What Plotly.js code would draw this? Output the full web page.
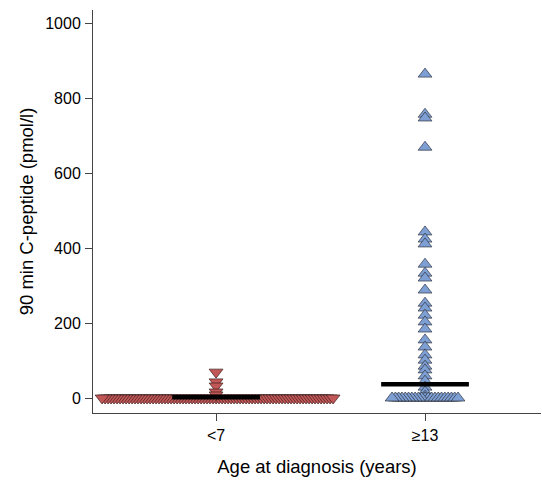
<!DOCTYPE html>
<html>
<head>
<meta charset="utf-8">
<script src="https://cdn.plot.ly/plotly-3.0.1.min.js"></script>
<style>html,body{margin:0;padding:0;background:#fff;}#chart{width:542px;height:480px;}</style>
</head>
<body>
<div id="chart"></div>
<script>
const categories = ['<7', '\u226513'];
const under7Values = [
  69, 43, 32, 16, 8,
  0, 0, 0, 0, 0, 0, 0, 0, 0, 0, 0, 0, 0,
  0, 0, 0, 0, 0, 0, 0, 0, 0, 0, 0, 0, 0,
  0, 0, 0, 0, 0, 0, 0, 0, 0, 0, 0, 0, 0,
  0, 0, 0, 0, 0, 0, 0, 0, 0, 0, 0, 0, 0,
  0, 0, 0, 0, 0, 0, 0, 0, 0, 0, 0, 0, 0,
  0, 0, 0, 0, 0, 0, 0, 0, 0, 0, 0, 0, 0
];
const over13Values = [
  864, 757, 747, 669, 443, 424, 411, 357, 333, 320, 288, 253, 240, 221,
  203, 184, 155, 136, 115, 101, 85, 75, 59, 45, 29, 16, 5,
  0, 0, 0, 0, 0, 0, 0, 0, 0, 0, 0, 0, 0, 0, 0, 0, 0, 0, 0, 0, 0
];
const medianValues = [2, 37];
const yTickVals = [0, 200, 400, 600, 800, 1000];

const W = 542, H = 480;
const margin = {l: 93, r: 1, t: 10, b: 67};
const xRange = [-0.589, 1.555];
const yRange = [-40, 1035];
const pxPerX = (W - margin.l - margin.r) / (xRange[1] - xRange[0]);
const pxPerY = (H - margin.t - margin.b) / (yRange[1] - yRange[0]);

// simple deterministic beeswarm: equal values spread sideways
function swarm(values, center, stepPx, thrPx) {
  const placed = [];
  return values.map(v => {
    const py = v * pxPerY;
    for (let k = 0; k < 2000; k++) {
      const off = k === 0 ? 0 : (k % 2 ? Math.ceil(k / 2) : -k / 2);
      const px = off * stepPx;
      const hit = placed.some(p => Math.abs(p.py - py) < thrPx && Math.abs(p.px - px) < stepPx * 0.5);
      if (!hit) { placed.push({px, py}); return center + px / pxPerX; }
    }
    return center;
  });
}

const font = 'Liberation Sans, Arial, Helvetica, sans-serif';
const traces = [
  {
    x: swarm(under7Values, 0, 3, 1.5), y: under7Values, type: 'scatter', mode: 'markers',
    marker: {symbol: 'triangle-down', size: 12, color: '#C25757', line: {color: '#3d1c1c', width: 0.7}},
    hoverinfo: 'y', showlegend: false
  },
  {
    x: swarm(over13Values, 1, 3.3, 1.5), y: over13Values, type: 'scatter', mode: 'markers',
    marker: {symbol: 'triangle-up', size: 12, color: '#7E9FD3', line: {color: '#2e3440', width: 0.7}},
    hoverinfo: 'y', showlegend: false
  }
];
medianValues.forEach((m, i) => {
  traces.push({
    x: [i - 0.21, i + 0.21], y: [m, m], type: 'scatter', mode: 'lines',
    line: {color: '#000', width: 4.5}, hoverinfo: 'skip', showlegend: false
  });
});

const axisCommon = {
  showline: true, linecolor: '#444', linewidth: 1, ticks: 'outside', ticklen: 7,
  tickwidth: 1, tickcolor: '#444', showgrid: false, zeroline: false, ticklabelstandoff: 1,
  tickfont: {family: font, size: 16, color: '#000'}, fixedrange: true
};
const layout = {
  width: W, height: H, margin: margin, paper_bgcolor: '#fff', plot_bgcolor: '#fff',
  xaxis: Object.assign({}, axisCommon, {
    range: xRange, tickvals: [0, 1], ticktext: categories,
    title: {text: 'Age at diagnosis (years)', font: {family: font, size: 18.5, color: '#000'}, standoff: 16}
  }),
  yaxis: Object.assign({}, axisCommon, {
    range: yRange, tickvals: yTickVals,
    title: {text: '90 min C-peptide (pmol/l)', font: {family: font, size: 18.5, color: '#000'}, standoff: 6}
  })
};
Plotly.newPlot('chart', traces, layout, {displayModeBar: false, staticPlot: true});
</script>
</body>
</html>
